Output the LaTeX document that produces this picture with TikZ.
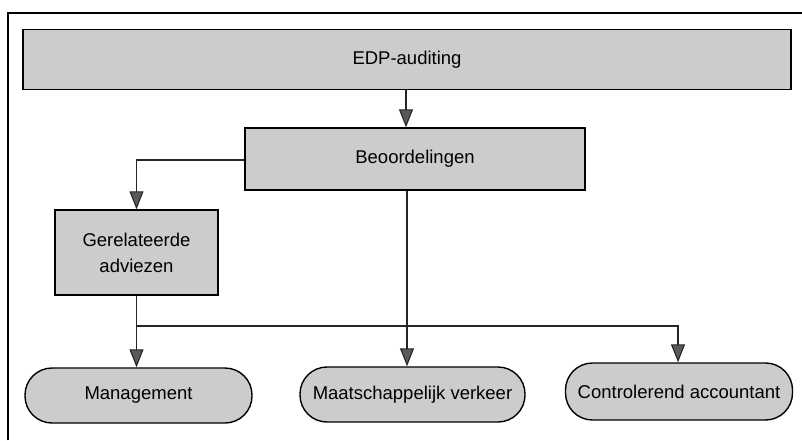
\documentclass[tikz,border=0pt]{standalone}
\usepackage{fontspec}
\setmainfont{Liberation Sans}
\usetikzlibrary{arrows.meta}
\begin{document}
\begin{tikzpicture}[x=1pt,y=-1pt,
  box/.style={draw=black,line width=1.4pt,fill=black!20,inner sep=0pt,
    font=\fontsize{18.5}{26}\selectfont,align=center},
  pill/.style={box,rounded corners=27pt},
  conn/.style={line width=1.1pt,draw=black!85,
    -{Triangle[width=14pt,length=18pt,fill=black!65]}},
  plain/.style={line width=1.1pt,draw=black!85}]
\useasboundingbox (0,0) rectangle (802,440);
\draw[line width=1.2pt] (8,440) -- (8,13) -- (802,13);
\node[box,minimum width=768pt,minimum height=60pt] (edp) at (407,59.5) {EDP-auditing};
\node[box,minimum width=340pt,minimum height=62pt] (beo) at (415,159) {Beoordelingen};
\node[box,minimum width=163pt,minimum height=85pt] (gea) at (136.5,252.5) {Gerelateerde\\adviezen};
\node[pill,minimum width=227pt,minimum height=55pt] (man) at (138.5,395.5) {Management};
\node[pill,minimum width=225pt,minimum height=55pt] (maa) at (412.5,394.5) {Maatschappelijk verkeer};
\node[pill,minimum width=227pt,minimum height=57pt] (con) at (679,391.5) {Controlerend accountant};
\coordinate (j) at (136.5,326);
\draw[conn] (edp.south -| 406,0) -- (beo.north -| 406,0);
\draw[conn] (beo.west |- 0,160) -| (gea.north);
\draw[conn] (gea.south) -- (man.north -| gea.south);
\draw[conn] (beo.south -| 407,0) -- (maa.north -| 407,0);
\draw[conn] (j) -| (con.north -| 678,0);
\end{tikzpicture}
\end{document}
